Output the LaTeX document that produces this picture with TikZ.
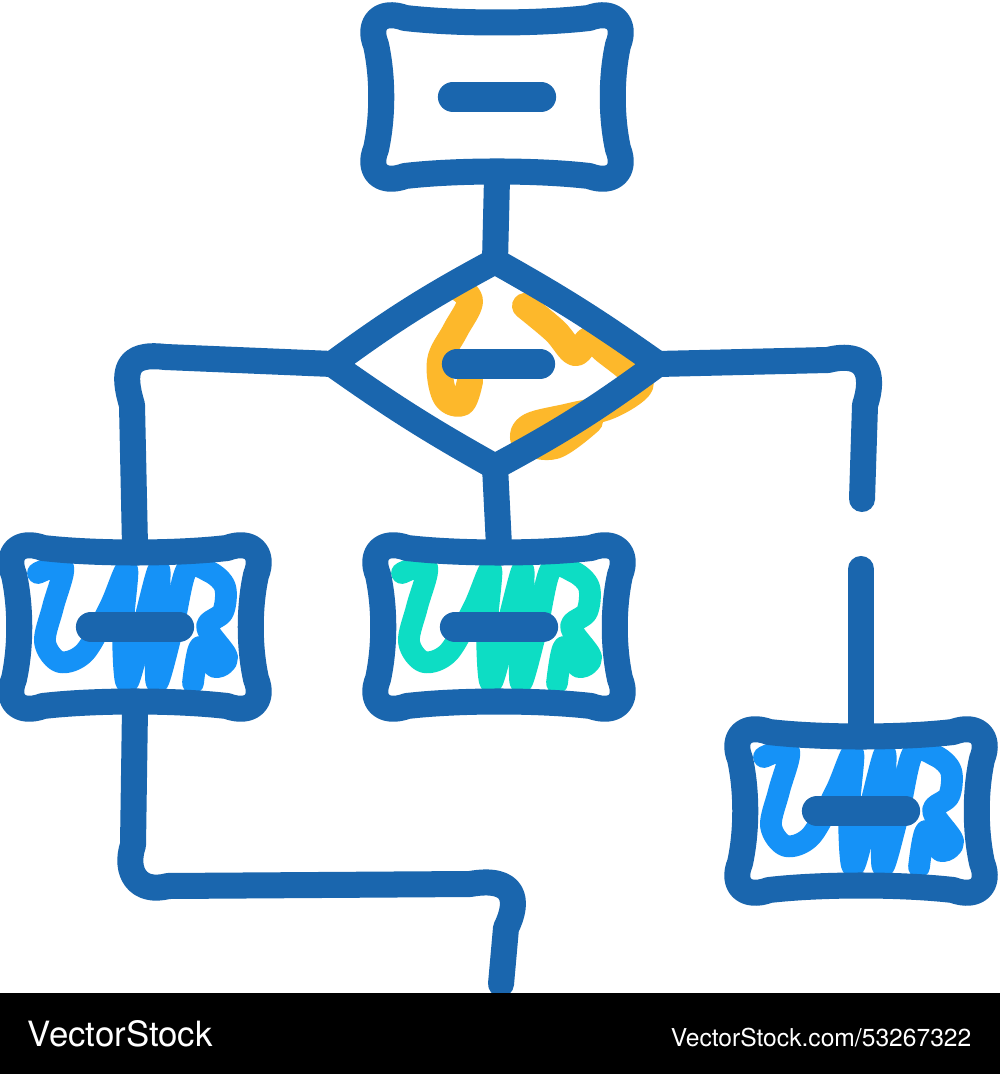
\documentclass[tikz,border=0pt]{standalone}
\usepackage{xcolor}
\usepackage{fontspec}
\usepackage{tikz}
\usetikzlibrary{calc}
\usetikzlibrary{positioning}
\newfontfamily\heros{TeX Gyre Heros}
\definecolor{inkblue}{HTML}{1A66AE}
\definecolor{sky}{HTML}{1592F7}
\definecolor{mint}{HTML}{0DDDC4}
\definecolor{amber}{HTML}{FDB82B}
\tikzstyle{outline} = [draw=inkblue, line width=7.4pt, line cap=round, line join=round]
\tikzstyle{bar} = [draw=inkblue, line width=8.6pt, line cap=round]
\tikzstyle{scribble} = [line width=6.2pt, line cap=round, line join=round]
\tikzstyle{slot} = [draw=none, rectangle, inner sep=0, minimum width=2.4cm, minimum height=1.6cm]
% wobbly box round a slot node
\newcommand{\pillow}[1]{%
\draw [outline, shift={(#1.center)}] (-92,-79) .. controls (-40,-73) and (40,-73) .. (92,-79)
  .. controls (116,-88) and (130,-74) .. (121,-52) .. controls (114,-20) and (114,20) .. (121,52)
  .. controls (130,74) and (116,88) .. (92,79) .. controls (40,73) and (-40,73) .. (-92,79)
  .. controls (-116,88) and (-130,74) .. (-121,52) .. controls (-114,20) and (-114,-20) .. (-121,-52)
  .. controls (-130,-74) and (-116,-88) .. cycle;
\draw [bar, shift={(#1.center)}] (-44,0) -- (44,0);
}
\newcommand{\scrib}[2]{%
\draw [scribble, draw=#2, shift={(#1.center)}] plot [smooth, tension=0.55] coordinates {(-97,-54) (-72,-60) (-82,-20) (-90,15) (-75,35) (-50,25) (-25,-20) (-8,-58) (-12,0) (-8,56) (8,0) (24,-58) (22,0) (22,56) (38,0) (52,-58) (75,-55) (90,-40) (88,-15) (72,0) (92,30) (80,40) (65,20) (58,56)};
}

\begin{document}
\begin{tikzpicture}[x=0.01cm, y=-0.01cm]
\useasboundingbox (0,0) rectangle (1000,1074);
\fill [white] (0,0) rectangle (1000,1074);
\node [slot] (T) at (497,97) {};
\node [slot, minimum width=3.24cm, minimum height=2.04cm] (D) at (495,364) {};
\node [slot] (L) at (135,627) {};
\node [slot] (M) at (499,627) {};
\node [slot] (R) at (861,811) {};
\coordinate (gapT) at (862,499);
\coordinate (gapB) at (861,569);
\coordinate (exit) at (501,984);
\scrib{L}{sky}
\scrib{M}{mint}
\scrib{R}{sky}
\draw [scribble, line width=7.4pt, draw=amber, shift={(D.center)}] plot [smooth, tension=0.6] coordinates {(-40,-78) (-25,-63) (-40,-33) (-55,-3) (-50,32) (-33,39) (-25,17)};
\draw [scribble, line width=7.4pt, draw=amber, shift={(D.center)}] plot [smooth, tension=0.6] coordinates {(30,-58) (60,-33) (80,-11) (95,-25) (110,-13) (135,7) (145,22) (115,42) (75,52) (35,62) (30,77) (60,82) (95,57)};
\pillow{T}
\pillow{L}
\pillow{M}
\pillow{R}
\draw [outline] (D.north) to[bend right=4] (D.west) to[bend right=3] (D.south) to[bend right=4] (D.east) to[bend right=3] (D.north);
\draw [bar] ($(D.center)+(-38,0)$) -- ($(D.center)+(45,0)$);
\draw [outline] (T.south) -- (D.north);
\draw [outline] (D.south) -- (M.north);
\draw [outline] (D.west) -- (165,357) .. controls (125,352) and (122,372) .. (132,405) -- (L.north);
\draw [outline] (D.east) -- (828,360) .. controls (868,350) and (875,375) .. (865,405) -- (gapT);
\draw [outline] (gapB) -- (R.north);
\draw [outline] (L.south) -- (133,845) .. controls (124,872) and (138,894) .. (168,886) -- (470,884) .. controls (515,876) and (520,900) .. (506,928) -- (exit);
\fill [black] (0,993) rectangle (1000,1074);
\node [anchor=base west, inner sep=0, text=white, font=\heros\fontsize{9.9}{12}\selectfont] (brand) at (27,1046) {VectorStock};
\node [anchor=base east, inner sep=0, text=white, font=\heros\fontsize{7}{9}\selectfont] (ref) at (972,1046) {VectorStock.com/53267322};
\end{tikzpicture}
\end{document}
